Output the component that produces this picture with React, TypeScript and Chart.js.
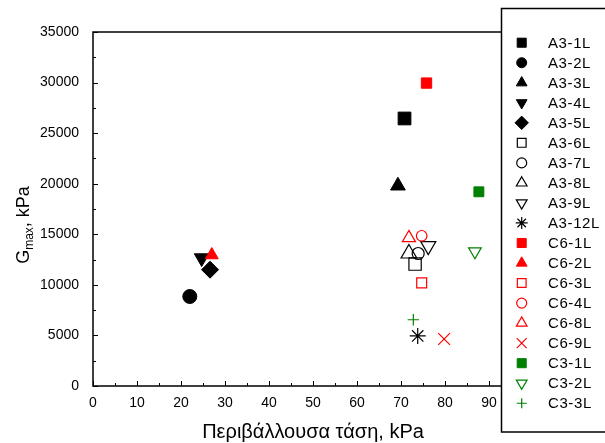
import React, { useEffect, useRef } from 'react';
import { Chart, registerables } from 'chart.js';
import { drawPoint } from 'chart.js/helpers';

Chart.register(...registerables);

// ---- data ----
const seriesNames = [
  'A3-1L', 'A3-2L', 'A3-3L', 'A3-4L', 'A3-5L', 'A3-6L', 'A3-7L', 'A3-8L', 'A3-9L', 'A3-12L',
  'C6-1L', 'C6-2L', 'C6-3L', 'C6-4L', 'C6-8L', 'C6-9L', 'C3-1L', 'C3-2L', 'C3-3L',
];
const confiningPressure = [
  70.8, 22.0, 69.3, 24.7, 26.6, 73.2, 73.9, 71.8, 76.2, 73.8,
  75.8, 27.0, 74.7, 74.7, 71.8, 79.8, 87.7, 86.8, 72.8,
];
const gmaxValues = [
  26450, 8850, 19800, 12650, 11500, 12050, 13100, 13100, 13850, 4950,
  29950, 12950, 10200, 14850, 14650, 4650, 19200, 13300, 6550,
];
const xTickValues = [0, 10, 20, 30, 40, 50, 60, 70, 80, 90];
const yTickValues = [0, 5000, 10000, 15000, 20000, 25000, 30000, 35000];

// ---- marker styles ----
const BLACK = '#000000';
const RED = '#ff0000';
const GREEN = '#008000';
type Marker = { color: string; style: string; rot: number; filled: boolean; r: number; lr: number };
const markers: Marker[] = [
  { color: BLACK, style: 'rect', rot: 0, filled: true, r: 9, lr: 6.4 },
  { color: BLACK, style: 'circle', rot: 0, filled: true, r: 7, lr: 5 },
  { color: BLACK, style: 'triangle', rot: 0, filled: true, r: 8.5, lr: 6.2 },
  { color: BLACK, style: 'triangle', rot: 180, filled: true, r: 8.5, lr: 6.2 },
  { color: BLACK, style: 'rectRot', rot: 0, filled: true, r: 8.5, lr: 6.7 },
  { color: BLACK, style: 'rect', rot: 0, filled: false, r: 8.7, lr: 6.2 },
  { color: BLACK, style: 'circle', rot: 0, filled: false, r: 6, lr: 5 },
  { color: BLACK, style: 'triangle', rot: 0, filled: false, r: 9, lr: 6.2 },
  { color: BLACK, style: 'triangle', rot: 180, filled: false, r: 8.7, lr: 6.2 },
  { color: BLACK, style: 'star', rot: 0, filled: false, r: 8, lr: 6 },
  { color: RED, style: 'rect', rot: 0, filled: true, r: 7.3, lr: 6.4 },
  { color: RED, style: 'triangle', rot: 0, filled: true, r: 7.5, lr: 6.2 },
  { color: RED, style: 'rect', rot: 0, filled: false, r: 7, lr: 6.2 },
  { color: RED, style: 'circle', rot: 0, filled: false, r: 5.3, lr: 5 },
  { color: RED, style: 'triangle', rot: 0, filled: false, r: 7.5, lr: 6.2 },
  { color: RED, style: 'crossRot', rot: 0, filled: false, r: 8.3, lr: 7 },
  { color: GREEN, style: 'rect', rot: 0, filled: true, r: 7, lr: 6.4 },
  { color: GREEN, style: 'triangle', rot: 180, filled: false, r: 7.3, lr: 6.2 },
  { color: GREEN, style: 'cross', rot: 0, filled: false, r: 5.7, lr: 5 },
];

const FONT = 'Arial, "Liberation Sans", sans-serif';

const decorPlugin = {
  id: 'decor',
  afterDraw(chart: any) {
    const ctx: CanvasRenderingContext2D = chart.ctx;
    const xs = chart.scales.x;
    const ys = chart.scales.y;
    const { left, right, top, bottom } = chart.chartArea;
    ctx.save();
    // frame
    ctx.strokeStyle = '#000';
    ctx.lineWidth = 1.5;
    ctx.strokeRect(left, top, right - left, bottom - top);
    // ticks (inside)
    ctx.lineWidth = 1;
    ctx.beginPath();
    for (let v = 0; v <= 100; v += 5) {
      const px = Math.round(xs.getPixelForValue(v)) + 0.5;
      const len = xTickValues.includes(v) || v === 100 ? 5 : 3;
      ctx.moveTo(px, bottom);
      ctx.lineTo(px, bottom - len);
    }
    for (let v = 0; v <= 35000; v += 2500) {
      const py = Math.round(ys.getPixelForValue(v)) + 0.5;
      const len = yTickValues.includes(v) ? 5 : 3;
      ctx.moveTo(left, py);
      ctx.lineTo(left + len, py);
    }
    ctx.stroke();

    // x title
    ctx.fillStyle = '#000';
    ctx.font = `20px ${FONT}`;
    ctx.textAlign = 'center';
    ctx.textBaseline = 'alphabetic';
    ctx.fillText('Περιβάλλουσα τάση, kPa', (left + right) / 2, 438);

    // y title with subscript
    ctx.save();
    ctx.translate(28.5, 225);
    ctx.rotate(-Math.PI / 2);
    ctx.textAlign = 'left';
    const big = `18px ${FONT}`;
    const small = `12px ${FONT}`;
    ctx.font = big;
    const wG = ctx.measureText('G').width;
    const wRest = ctx.measureText(', kPa').width;
    ctx.font = small;
    const wSub = ctx.measureText('max').width;
    let x0 = -(wG + wSub + wRest) / 2;
    ctx.font = big;
    ctx.fillText('G', x0, 0);
    x0 += wG;
    ctx.font = small;
    ctx.fillText('max', x0, 4);
    x0 += wSub;
    ctx.font = big;
    ctx.fillText(', kPa', x0, 0);
    ctx.restore();

    // legend box
    ctx.fillStyle = '#fff';
    ctx.fillRect(501, 8, 120, 424);
    ctx.strokeStyle = '#000';
    ctx.lineWidth = 1.5;
    ctx.strokeRect(501.5, 8.5, 120, 423.5);
    ctx.font = `15px ${FONT}`;
    ctx.textAlign = 'left';
    ctx.textBaseline = 'middle';
    try { (ctx as any).letterSpacing = '0.6px'; } catch (e) { /* ignore */ }
    seriesNames.forEach((name, i) => {
      const m = markers[i];
      const y = 42.7 + i * 20.03;
      ctx.fillStyle = m.filled ? m.color : 'rgba(0,0,0,0)';
      ctx.strokeStyle = m.color;
      ctx.lineWidth = m.filled ? 1 : 1.2;
      drawPoint(ctx, { pointStyle: m.style, rotation: m.rot, radius: m.lr, borderWidth: ctx.lineWidth } as any, 521.7, y);
      ctx.fillStyle = '#000';
      ctx.fillText(name, 548, y + 1);
    });
    ctx.restore();
  },
};

export default function App() {
  const canvasRef = useRef<HTMLCanvasElement | null>(null);

  useEffect(() => {
    if (!canvasRef.current) return;
    const n = seriesNames.length;
    const datasets = seriesNames.map((name, i) => {
      const m = markers[i];
      return {
        label: name,
        data: [{ x: confiningPressure[i], y: gmaxValues[i] }],
        pointStyle: m.style,
        rotation: m.rot,
        pointRadius: m.r,
        pointBackgroundColor: m.filled ? m.color : 'rgba(0,0,0,0)',
        pointBorderColor: m.color,
        pointBorderWidth: m.filled ? 1 : 1.2,
        showLine: false,
        order: n - i,
      };
    });
    const tickFont = { family: FONT, size: 14 };
    const chart = new Chart(canvasRef.current, {
      type: 'scatter',
      data: { datasets },
      options: {
        responsive: false,
        animation: false,
        events: [],
        layout: { padding: { top: 32, right: 72, left: 0, bottom: 0 } },
        plugins: { legend: { display: false }, tooltip: { enabled: false } },
        scales: {
          x: {
            type: 'linear',
            min: 0,
            max: 100,
            afterBuildTicks: (s: any) => { s.ticks = xTickValues.map((v) => ({ value: v })); },
            ticks: { color: '#000', font: tickFont, padding: 9, maxRotation: 0, autoSkip: false, callback: (v: any) => String(v) },
            grid: { display: false, drawTicks: false },
            border: { display: false },
            afterFit: (s: any) => { s.height = 57; },
          },
          y: {
            type: 'linear',
            min: 0,
            max: 35000,
            afterBuildTicks: (s: any) => { s.ticks = yTickValues.map((v) => ({ value: v })); },
            ticks: { color: '#000', font: tickFont, padding: 14, autoSkip: false, callback: (v: any) => String(v) },
            grid: { display: false, drawTicks: false },
            border: { display: false },
            afterFit: (s: any) => { s.width = 93; },
          },
        },
      } as any,
      plugins: [decorPlugin],
    });
    return () => chart.destroy();
  }, []);

  return (
    <div style={{ position: 'fixed', left: 0, top: 0, width: 605, height: 443, background: '#fff' }}>
      <canvas ref={canvasRef} width={605} height={443} />
    </div>
  );
}
